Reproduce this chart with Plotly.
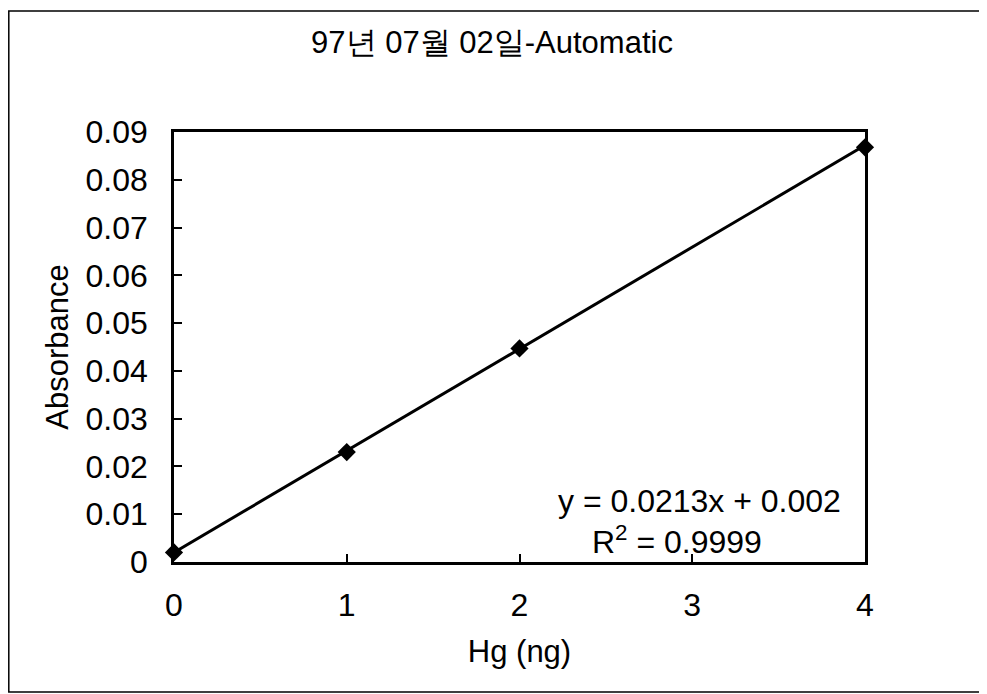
import plotly.graph_objects as go

# Data
hg_ng = [0, 1, 2, 4]
absorbance = [0.002, 0.023, 0.0447, 0.0868]
slope = 0.0213
intercept = 0.002
r_squared = 0.9999
x_ticks = [0, 1, 2, 3, 4]
y_ticks = [0, 0.01, 0.02, 0.03, 0.04, 0.05, 0.06, 0.07, 0.08, 0.09]
y_tick_labels = ["0", "0.01", "0.02", "0.03", "0.04", "0.05", "0.06", "0.07", "0.08", "0.09"]
title_text = "97년 07월 02일-Automatic"

FONT = "Liberation Sans, Arial, sans-serif"

trend_x = [min(hg_ng), max(hg_ng)]
trend_y = [slope * v + intercept for v in trend_x]

fig = go.Figure()
fig.add_trace(go.Scatter(x=trend_x, y=trend_y, mode="lines",
                         line=dict(color="black", width=3), cliponaxis=False,
                         showlegend=False, hoverinfo="skip"))
fig.add_trace(go.Scatter(x=hg_ng, y=absorbance, mode="markers",
                         marker=dict(symbol="diamond", size=14, color="black"),
                         cliponaxis=False, showlegend=False))

OFF = 6  # page body offset
W, H = 987, 694
# target plot area in screen pixels
SX0, SX1, SY0, SY1 = 172, 863, 130, 560
L = SX0 - OFF
R = W - (SX1 - OFF)
T = SY0 - OFF
B = H - (SY1 - OFF)
pw, ph = W - L - R, H - T - B

def px(xs):
    return (xs - OFF - L) / pw

def py(ys):
    return (H - B - (ys - OFF)) / ph

fig.update_layout(
    width=W, height=H,
    margin=dict(l=L, r=R, t=T, b=B),
    paper_bgcolor="white", plot_bgcolor="white",
    font=dict(family=FONT, size=32, color="black"),
    title=dict(text=title_text, x=px(490), xanchor="center", xref="paper",
               y=1 - (40 - OFF) / H, yanchor="middle",
               font=dict(family=FONT, size=31)),
    xaxis=dict(range=[0, 4], tickvals=x_ticks, ticks="inside", ticklen=8, tickwidth=2,
               tickcolor="black", showline=True, linewidth=2.5, linecolor="black",
               mirror=True, showgrid=False, zeroline=False, ticklabelstandoff=13,
               tickfont=dict(size=32),
               title=dict(text="Hg (ng)", standoff=19, font=dict(size=31))),
    yaxis=dict(range=[0, 0.09], tickvals=y_ticks, ticktext=y_tick_labels,
               ticks="inside", ticklen=8, tickwidth=2, tickcolor="black",
               showline=True, linewidth=2.5, linecolor="black", mirror=True,
               showgrid=False, zeroline=False, ticklabelstandoff=17,
               tickfont=dict(size=32),
               title=dict(text="Absorbance", standoff=8, font=dict(size=31))),
    annotations=[
        dict(text=f"y = {slope}x + {intercept}", x=px(697), y=py(499), xref="paper",
             yref="paper", xanchor="center", yanchor="middle", showarrow=False,
             font=dict(size=32)),
        dict(text=f"R<sup>2</sup> = {r_squared}", x=px(675), y=py(538), xref="paper",
             yref="paper", xanchor="center", yanchor="middle", showarrow=False,
             font=dict(size=32)),
    ],
    shapes=[dict(type="rect", xref="paper", yref="paper",
                 x0=px(OFF + 0.8), x1=px(990), y0=py(690), y1=py(9),
                 line=dict(color="black", width=1.5))],
)

fig.write_html("out.html")
